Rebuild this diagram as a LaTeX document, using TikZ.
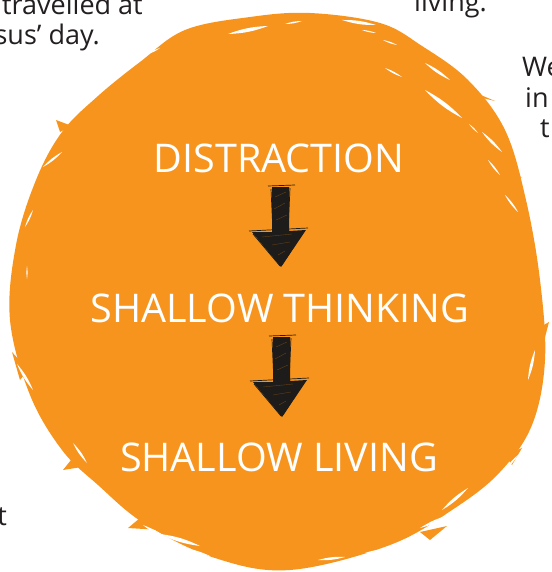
\documentclass[tikz,border=0pt]{standalone}
\usepackage{fontspec}
\setmainfont{Open Sans}
\usetikzlibrary{calc}
\definecolor{brush}{HTML}{F7941D}
\definecolor{ink}{HTML}{231F20}
\definecolor{marker}{HTML}{1D1C1A}

% white gap left by the brush
\newcommand{\streak}[2]{\fill[white] #1 to[bend left=9] #2 to[bend left=9] #1;}
% hand-drawn block arrow, top of the shaft at #1
\newcommand{\brusharrow}[1]{%
  \begin{scope}[shift={#1}]
    \fill[marker] (-8,0) -- (9,0) -- (9,44) -- (26,43) -- (1,80) -- (-28,45) -- (-8,45) -- cycle;
    \draw[marker, line width=0.7pt] (-12,-1) -- (15,-2) (-9,2) -- (-7,46) (10,1) -- (8,45)
      (-31,44) -- (28,41) (-27,47) -- (0,79) (24,44) -- (2,78);
    \draw[brush!60!black, line width=0.4pt, opacity=0.6] (-5,10) -- (6,5) (-6,22) -- (5,16)
      (-4,33) -- (7,28) (-18,50) -- (12,47) (-8,58) -- (10,55) (-2,68) -- (5,64);
  \end{scope}}

\begin{document}
\begin{tikzpicture}[x=1pt, y=-1pt,
  bodytext/.style={font=\fontsize{27}{30}\selectfont, text=ink, inner sep=0pt},
  caption/.style={font=\fontsize{39.5}{42}\selectfont, text=white, inner sep=0pt, anchor=base}]
  \useasboundingbox (0,0) rectangle (551,572);

  % Body text around the blot
  \node[bodytext, anchor=base east] (line1) at (143,15) {travelled at};
  \node[bodytext, anchor=base east] (line2) at (100,45) {sus’ day.};
  \node[bodytext, anchor=base east] (line3) at (487,12) {living.};
  \node[bodytext, anchor=base west] (line4) at (522,77) {We};
  \node[bodytext, anchor=base west] (line5) at (525,108) {in};
  \node[bodytext, anchor=base west] (line6) at (540,138) {t};
  \node[bodytext, anchor=base east] (line7) at (7,525) {t};

  % Orange blot
  \fill[brush] plot[smooth cycle, tension=0.6] coordinates {
    (310,13) (380,23) (422,46) (468,80) (505,130) (526,200) (540,280) (545,360)
    (532,425) (500,472) (455,508) (390,545) (290,570) (215,558) (145,524)
    (98,485) (62,450) (30,395) (10,320) (16,245) (36,180) (62,132) (98,96)
    (140,62) (185,30) (250,17)};
  % ragged bristle tips
  \fill[brush] (445,80) -- (495,101) -- (470,95) -- cycle;
  \fill[brush] (495,155) -- (522,178) -- (505,172) -- cycle;
  \fill[brush] (520,215) -- (533,243) -- (524,238) -- cycle;
  \fill[brush] (535,330) -- (549,322) -- (543,345) -- cycle;
  \fill[brush] (505,455) -- (522,448) -- (512,465) -- cycle;
  \fill[brush] (75,455) -- (63,470) -- (88,466) -- cycle;
  \fill[brush] (20,380) -- (12,352) -- (28,370) -- cycle;
  \fill[brush] (140,518) -- (128,528) -- (160,530) -- cycle;
  \fill[brush] (60,132) -- (56,120) -- (72,126) -- cycle;
  \fill[brush] (420,532) -- (447,526) -- (430,540) -- cycle;

  % Brush texture
  \streak{(228,34)}{(268,26)}
  \streak{(285,24)}{(302,21)}
  \streak{(342,20)}{(376,25)}
  \streak{(362,30)}{(376,33)}
  \streak{(383,40)}{(397,45)}
  \streak{(385,68)}{(402,77)}
  \streak{(425,63)}{(450,80)}
  \streak{(425,90)}{(462,118)}
  \streak{(469,124)}{(478,133)}
  \streak{(482,132)}{(502,152)}
  \streak{(488,160)}{(500,175)}
  \streak{(505,195)}{(518,212)}
  \streak{(528,380)}{(535,350)}
  \streak{(505,470)}{(518,455)}
  \streak{(442,510)}{(468,488)}
  \streak{(420,528)}{(450,515)}
  \streak{(365,553)}{(382,550)}
  \streak{(400,547)}{(420,541)}
  \streak{(318,560)}{(345,557)}
  \streak{(160,534)}{(200,546)}
  \streak{(143,525)}{(172,542)}
  \streak{(182,548)}{(210,556)}
  \streak{(73,443)}{(87,463)}
  \streak{(17,364)}{(33,390)}
  \streak{(27,266)}{(27,279)}
  \streak{(25,227)}{(33,210)}
  \streak{(43,167)}{(62,152)}
  \streak{(75,110)}{(90,98)}
  \streak{(148,54)}{(160,48)}

  % Steps
  \node[caption] (distraction) at (279,172) {DISTRACTION};
  \node[caption] (thinking) at (280,322) {SHALLOW THINKING};
  \node[caption] (living) at (279,471) {SHALLOW LIVING};

  \brusharrow{($(distraction.base)+(1,15)$)}
  \brusharrow{($(thinking.base)+(1,15)$)}
\end{tikzpicture}
\end{document}
